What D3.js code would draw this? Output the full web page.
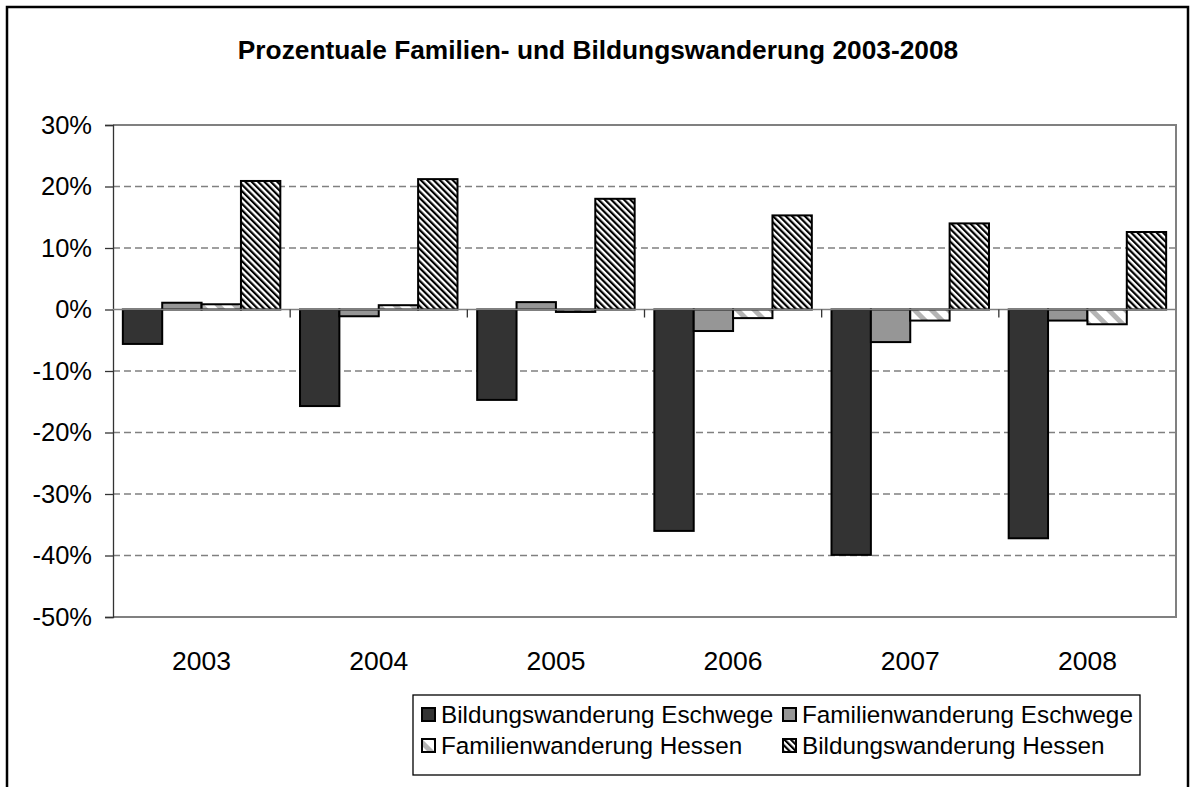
<!DOCTYPE html>
<html>
<head>
<meta charset="utf-8">
<script src="https://cdn.jsdelivr.net/npm/d3@7"></script>
<style>
  body { margin: 0; background: #fff; }
  svg { font-family: Arial, "Liberation Sans", sans-serif; }
</style>
</head>
<body>
<svg width="1190" height="787"></svg>
<script>
var years = ['2003', '2004', '2005', '2006', '2007', '2008'];
var seriesNames = ['Bildungswanderung Eschwege', 'Familienwanderung Eschwege', 'Familienwanderung Hessen', 'Bildungswanderung Hessen'];
var bildungEschwege = [-5.6, -15.7, -14.7, -36.0, -39.9, -37.2];
var familienEschwege = [1.1, -1.1, 1.2, -3.5, -5.3, -1.8];
var familienHessen = [0.85, 0.7, -0.4, -1.4, -1.8, -2.4];
var bildungHessen = [20.9, 21.2, 18.0, 15.3, 14.0, 12.6];
var yTicks = [30, 20, 10, 0, -10, -20, -30, -40, -50];

var allSeries = [bildungEschwege, familienEschwege, familienHessen, bildungHessen];

var svg = d3.select('svg');

// outer frame
svg.append('rect')
    .attr('x', 7).attr('y', 7)
    .attr('width', 1181).attr('height', 800)
    .attr('fill', 'none').attr('stroke', '#000').attr('stroke-width', 2.5);

// patterns
var defs = svg.append('defs');
var p1 = defs.append('pattern')
    .attr('id', 'famHessen').attr('patternUnits', 'userSpaceOnUse')
    .attr('width', 12).attr('height', 12)
    .attr('patternTransform', 'rotate(-45)');
p1.append('rect').attr('width', 12).attr('height', 12).attr('fill', '#fff');
p1.append('rect').attr('width', 5).attr('height', 12).attr('fill', '#b4b4b4');

var p2 = defs.append('pattern')
    .attr('id', 'bildHessen').attr('patternUnits', 'userSpaceOnUse')
    .attr('width', 4.5).attr('height', 4.5)
    .attr('patternTransform', 'rotate(-45)');
p2.append('rect').attr('width', 4.5).attr('height', 4.5).attr('fill', '#fff');
p2.append('rect').attr('width', 2.2).attr('height', 4.5).attr('fill', '#000');

var fills = ['#333333', '#969696', 'url(#famHessen)', 'url(#bildHessen)'];

var plotLeft = 113, plotRight = 1176, plotTop = 125, plotBottom = 617;

var x = d3.scaleBand().domain(years).range([plotLeft, plotRight]).paddingInner(0).paddingOuter(0);
var xInner = d3.scaleBand().domain(d3.range(4)).range([0, x.bandwidth()]).paddingOuter(0.25).paddingInner(0);
var y = d3.scaleLinear().domain([-50, 30]).range([plotBottom, plotTop]);

// title
svg.append('text')
    .attr('x', 598).attr('y', 59)
    .attr('text-anchor', 'middle')
    .style('font-size', '26.3px').style('font-weight', 'bold')
    .text('Prozentuale Familien- und Bildungswanderung 2003-2008');

// grid lines
svg.append('g').selectAll('line')
    .data(yTicks.filter(function(d) { return d !== 30 && d !== -50 && d !== 0; }))
    .enter().append('line')
    .attr('x1', plotLeft).attr('x2', plotRight)
    .attr('y1', function(d) { return y(d); })
    .attr('y2', function(d) { return y(d); })
    .attr('stroke', '#808080').attr('stroke-width', 1.3)
    .attr('stroke-dasharray', '7,4');

// plot border (top, right, bottom)
svg.append('path')
    .attr('d', 'M' + plotLeft + ',' + plotTop + 'H' + plotRight + 'V' + plotBottom + 'H' + plotLeft)
    .attr('fill', 'none').attr('stroke', '#808080').attr('stroke-width', 2);

// y axis
var yAxis = d3.axisLeft(y).tickValues(yTicks).tickSize(8).tickPadding(13)
    .tickFormat(function(d) { return d + '%'; });
var gy = svg.append('g').attr('transform', 'translate(' + plotLeft + ',0)').call(yAxis);
gy.select('.domain').attr('stroke', '#333').attr('stroke-width', 1.3);
gy.selectAll('.tick line').attr('stroke', '#333').attr('stroke-width', 1.3);
gy.selectAll('.tick text').style('font-size', '25.5px').attr('fill', '#000').attr('font-family', 'Arial, "Liberation Sans", sans-serif');

// bars
var groups = svg.append('g').selectAll('g')
    .data(years)
    .enter().append('g')
    .attr('transform', function(d) { return 'translate(' + x(d) + ',0)'; });

groups.selectAll('rect')
    .data(function(d, i) { return allSeries.map(function(s, k) { return { k: k, v: s[i] }; }); })
    .enter().append('rect')
    .attr('x', function(d) { return xInner(d.k); })
    .attr('width', xInner.bandwidth())
    .attr('y', function(d) { return y(Math.max(0, d.v)); })
    .attr('height', function(d) { return Math.abs(y(d.v) - y(0)); })
    .attr('fill', function(d) { return fills[d.k]; })
    .attr('stroke', '#000').attr('stroke-width', 2);

// x axis at zero
svg.append('line')
    .attr('x1', plotLeft).attr('x2', plotRight)
    .attr('y1', y(0)).attr('y2', y(0))
    .attr('stroke', '#808080').attr('stroke-width', 1.3);
svg.append('g').selectAll('line')
    .data(years.slice(1))
    .enter().append('line')
    .attr('x1', function(d) { return x(d); })
    .attr('x2', function(d) { return x(d); })
    .attr('y1', y(0)).attr('y2', y(0) + 8)
    .attr('stroke', '#333').attr('stroke-width', 1.3);

// x labels
svg.append('g').selectAll('text')
    .data(years)
    .enter().append('text')
    .attr('x', function(d) { return x(d) + x.bandwidth() / 2; })
    .attr('y', 670)
    .attr('text-anchor', 'middle')
    .style('font-size', '26.5px')
    .text(function(d) { return d; });

// legend
var legend = svg.append('g');
legend.append('rect')
    .attr('x', 413).attr('y', 695)
    .attr('width', 727).attr('height', 80)
    .attr('fill', '#fff').attr('stroke', '#000').attr('stroke-width', 1.3);

var legendPos = [[422, 715], [783, 715], [422, 746], [783, 746]];
var items = legend.selectAll('g.item')
    .data(seriesNames)
    .enter().append('g')
    .attr('class', 'item')
    .attr('transform', function(d, i) { return 'translate(' + legendPos[i][0] + ',' + legendPos[i][1] + ')'; });
items.append('rect')
    .attr('x', 0).attr('y', -7)
    .attr('width', 13).attr('height', 13)
    .attr('fill', function(d, i) { return fills[i]; })
    .attr('stroke', '#000').attr('stroke-width', 2);
items.append('text')
    .attr('x', 19).attr('y', 8)
    .style('font-size', '24.3px')
    .text(function(d) { return d; });
</script>
</body>
</html>
